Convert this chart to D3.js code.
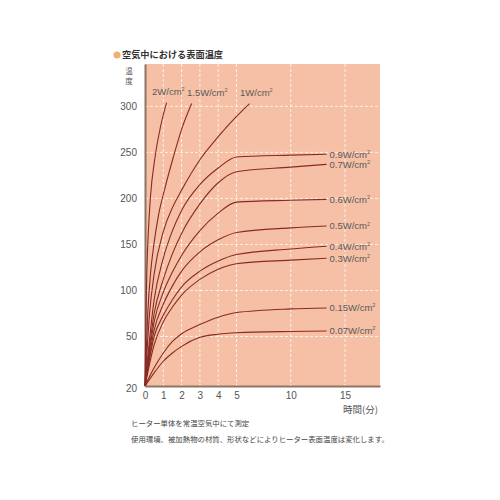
<!DOCTYPE html>
<html><head><meta charset="utf-8">
<script src="https://cdn.jsdelivr.net/npm/d3@7"></script>
<style>body{margin:0;background:#fff}svg{display:block}</style>
</head><body>
<svg id="c" width="500" height="500"></svg>
<script>
// ---- data ----
const title = "空気中における表面温度";
const yTitle = ["温", "度"];
const xTitle = "時間(分)";
const notes = ["ヒーター単体を常温空気中にて測定", "使用環境、被加熱物の材質、形状などによりヒーター表面温度は変化します。"];
const yTicks = [50, 100, 150, 200, 250, 300];
const yOrigin = 20;
const xTicks = [0, 1, 2, 3, 4, 5, 10, 15];
const xGrid = [1, 2, 3, 4, 5, 10, 15];

// saturating curves (right-hand labels)
const times = [0, 0.5, 1, 1.5, 2, 3, 4, 5, 10, 13.3];
const w007 = [20, 28, 35, 40, 44, 49.5, 52.5, 54, 55.5, 56];
const w015 = [20, 31, 40, 47, 53, 63, 71, 76, 80, 81];
const w03  = [20, 45, 66, 82, 95, 112, 123, 129, 133, 135];
const w04  = [20, 50, 73, 90, 104, 121, 132, 139, 145, 148];
const w05  = [20, 57, 85, 105, 121, 142, 155, 163, 168, 170];
const w06  = [20, 66, 98, 120, 138, 165, 184, 196, 198, 199];
const w07  = [20, 75, 112, 140, 162, 194, 217, 229, 234, 237];
const w09  = [20, 90, 135, 165, 187, 215, 233, 245, 247, 248];
const rightNames = ["0.07", "0.15", "0.3", "0.4", "0.5", "0.6", "0.7", "0.9"];
const rightSeries = [w007, w015, w03, w04, w05, w06, w07, w09];

// steep curves (top labels)
const t2w  = [0, 0.05, 0.1, 0.2, 0.3, 0.55, 0.85, 1.18];
const w2   = [20, 70, 120, 170, 202, 245, 278, 304];
const t15w = [0, 0.15, 0.3, 0.5, 0.75, 1.1, 1.55, 2, 2.55];
const w15  = [20, 75, 118, 152, 183, 212, 245, 275, 303];
const t1w  = [0, 0.25, 0.5, 1, 1.5, 2, 3, 4, 5, 6.2];
const w1   = [20, 75, 118, 164, 190, 209, 242, 267, 289, 303];
const topNames = ["2", "1.5", "1"];

// ---- layout ----
const L = 145, R = 380, T = 64, B = 386;
const svg = d3.select("#c");
const x = d3.scaleLinear().domain([0, 5, 15, 18.2]).range([L, 236.5, 345, R]);
const y = d3.scaleLinear().domain([20, 50, 346]).range([B, 336.5, T]);

const numFont = "'Liberation Sans', Arial, sans-serif";
const jpFont = "'Noto Sans CJK JP', sans-serif";

// plot background
svg.append("rect").attr("x", L).attr("y", T).attr("width", R - L).attr("height", B - T).attr("fill", "#f5c0a5");

// grid
svg.append("g").selectAll("line").data(yTicks).join("line")
  .attr("x1", L).attr("x2", R).attr("y1", d => y(d)).attr("y2", d => y(d))
  .attr("stroke", "#fff").attr("stroke-opacity", 0.75).attr("stroke-width", 1).attr("stroke-dasharray", "3,2");
svg.append("g").selectAll("line").data(xGrid).join("line")
  .attr("x1", d => x(d)).attr("x2", d => x(d)).attr("y1", T).attr("y2", B)
  .attr("stroke", "#fff").attr("stroke-opacity", 0.75).attr("stroke-width", 1).attr("stroke-dasharray", "3,2");

// axes
const yAxis = d3.axisLeft(y).tickValues([yOrigin].concat(yTicks)).tickSize(0).tickPadding(8);
const gy = svg.append("g").attr("transform", `translate(${L},0)`).call(yAxis);
gy.select(".domain").attr("stroke", "#8d7568").attr("stroke-width", 2);
gy.selectAll("text").attr("font-family", numFont).attr("font-size", 10).attr("fill", "#555");
gy.selectAll(".tick").filter(d => d === yOrigin).select("text").attr("dy", "0.55em");

const xAxis = d3.axisBottom(x).tickValues(xTicks).tickSize(0).tickPadding(6);
const gx = svg.append("g").attr("transform", `translate(0,${B})`).call(xAxis);
gx.select(".domain").attr("stroke", "#8d7568").attr("stroke-width", 2);
gx.selectAll("text").attr("font-family", numFont).attr("font-size", 10).attr("fill", "#555");

// curves
const line = d3.line().curve(d3.curveMonotoneX);
const curveColor = "#8a2a24";
const gC = svg.append("g").attr("fill", "none").attr("stroke", curveColor).attr("stroke-width", 1.1);
rightSeries.forEach(s => {
  gC.append("path").attr("d", line(times.map((t, i) => [x(t), y(s[i])])));
});
[[t2w, w2], [t15w, w15], [t1w, w1]].forEach(([ts, vs]) => {
  gC.append("path").attr("d", line(ts.map((t, i) => [x(t), y(vs[i])])));
});

// labels
function unitLabel(g, name, px, py, anchor) {
  const t = g.append("text").attr("x", px).attr("y", py).attr("text-anchor", anchor)
    .attr("font-family", numFont).attr("font-size", 9.5).attr("fill", "#5a5a5a").attr("dy", "0.35em");
  t.append("tspan").text(name + "W/cm");
  t.append("tspan").text("2").attr("font-size", 5.5).attr("dy", "-0.7em");
}
const gL = svg.append("g");
rightSeries.forEach((s, i) => {
  unitLabel(gL, rightNames[i], x(times[times.length - 1]) + 3, y(s[s.length - 1]), "start");
});
const topEnds = [[t2w, w2], [t15w, w15], [t1w, w1]];
const topX = [152, 187, 240];
topEnds.forEach(([ts, vs], i) => {
  unitLabel(gL, topNames[i], topX[i], y(vs[vs.length - 1]) - 11, "start");
});

// title
svg.append("circle").attr("cx", 117).attr("cy", 55).attr("r", 3.5).attr("fill", "#f0b070");
svg.append("text").attr("x", 122).attr("y", 55).attr("dy", "0.36em").text(title)
  .attr("font-family", jpFont).attr("font-size", 9.2).attr("font-weight", "bold").attr("fill", "#333");

// y title (vertical)
svg.append("g").selectAll("text").data(yTitle).join("text")
  .attr("x", 129).attr("y", (d, i) => 71 + i * 10.5).attr("text-anchor", "middle").attr("dy", "0.35em")
  .text(d => d).attr("font-family", jpFont).attr("font-size", 7.5).attr("fill", "#555");

// x title
svg.append("text").attr("x", R - 2).attr("y", 410).attr("dy", "0.35em").attr("text-anchor", "end")
  .text(xTitle).attr("font-family", jpFont).attr("font-size", 9.5).attr("fill", "#555");

// notes
svg.append("g").selectAll("text").data(notes).join("text")
  .attr("x", 131).attr("y", (d, i) => 423 + i * 16).attr("dy", "0.35em")
  .text(d => d).attr("font-family", jpFont).attr("font-size", 7.4).attr("fill", "#444");
</script>
</body></html>
